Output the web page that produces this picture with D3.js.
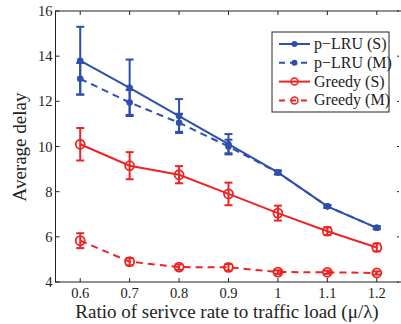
<!DOCTYPE html>
<html>
<head>
<meta charset="utf-8">
<script src="https://cdn.jsdelivr.net/npm/d3@7"></script>
<style>
  body { margin: 0; background: #fff; }
  svg { display: block; }
</style>
</head>
<body>
<svg id="chart" width="401" height="324" font-family="'Times New Roman', 'Liberation Serif', Times, 'DejaVu Serif', serif"></svg>
<script>
// data
const ratios = [0.6, 0.7, 0.8, 0.9, 1.0, 1.1, 1.2];
const yTicks = [4, 6, 8, 10, 12, 14, 16];

const lruS    = [13.8, 12.6, 11.35, 10.1, 8.85, 7.35, 6.4];
const lruSErr = [1.5, 1.25, 0.75, 0.45, 0.08, 0.06, 0.06];
const lruM    = [13.0, 11.95, 11.05, 10.0, 8.85, 7.35, 6.4];
const lruMErr = [0.7, 0.55, 0.4, 0.3, 0.08, 0.06, 0.06];
const grS     = [10.1, 9.15, 8.75, 7.9, 7.05, 6.25, 5.53];
const grSErr  = [0.72, 0.6, 0.38, 0.5, 0.33, 0.17, 0.17];
const grM     = [5.83, 4.9, 4.66, 4.65, 4.44, 4.43, 4.4];
const grMErr  = [0.33, 0.16, 0.12, 0.14, 0.08, 0.07, 0.07];

const seriesNames = ["p\u2212LRU (S)", "p\u2212LRU (M)", "Greedy (S)", "Greedy (M)"];

const blue = "#2e4fae", red = "#ee2424";
const serif = "'Times New Roman', 'Liberation Serif', Times, 'DejaVu Serif', serif";

const series = [
  { name: seriesNames[0], vals: lruS, err: lruSErr, color: blue, dash: null, marker: "dot" },
  { name: seriesNames[1], vals: lruM, err: lruMErr, color: blue, dash: "7,5", marker: "dot" },
  { name: seriesNames[2], vals: grS, err: grSErr, color: red, dash: null, marker: "circle" },
  { name: seriesNames[3], vals: grM, err: grMErr, color: red, dash: "7,5", marker: "circle" },
];

const svg = d3.select("#chart");
const m = { left: 55.5, top: 11, right: 401, bottom: 282 };

const x = d3.scaleLinear().domain([0.55, 1.25]).range([m.left, m.right + 0.5]);
const y = d3.scaleLinear().domain([4, 16]).range([m.bottom, m.top]);

// frame
svg.append("rect")
  .attr("x", m.left).attr("y", m.top)
  .attr("width", m.right + 2 - m.left).attr("height", m.bottom - m.top)
  .attr("fill", "none").attr("stroke", "#222").attr("stroke-width", 1);

const tickLen = 4;
// x ticks bottom & top
ratios.forEach(v => {
  svg.append("line").attr("x1", x(v)).attr("x2", x(v)).attr("y1", m.bottom).attr("y2", m.bottom - tickLen).attr("stroke", "#222");
  svg.append("line").attr("x1", x(v)).attr("x2", x(v)).attr("y1", m.top).attr("y2", m.top + tickLen).attr("stroke", "#222");
  svg.append("text").attr("x", x(v)).attr("y", m.bottom + 16)
    .attr("font-family", serif)
    .attr("text-anchor", "middle").attr("font-size", 14.5).attr("fill", "#222")
    .text(d3.format("")(v));
});
// y ticks left & right
yTicks.forEach(v => {
  svg.append("line").attr("x1", m.left).attr("x2", m.left + tickLen).attr("y1", y(v)).attr("y2", y(v)).attr("stroke", "#222");
  svg.append("line").attr("x1", 399).attr("x2", 399 - tickLen + 2).attr("y1", y(v)).attr("y2", y(v)).attr("stroke", "#222");
  svg.append("text").attr("x", m.left - 3).attr("y", y(v) + 5)
    .attr("font-family", serif)
    .attr("text-anchor", "end").attr("font-size", 14.5).attr("fill", "#222")
    .text(v);
});

svg.append("text").attr("x", 227).attr("y", 318)
  .attr("font-family", serif)
  .attr("text-anchor", "middle").attr("font-size", 19).attr("fill", "#222")
  .text("Ratio of serivce rate to traffic load (\u03bc/\u03bb)");
svg.append("text").attr("transform", "translate(26,147) rotate(-90)")
  .attr("font-family", serif)
  .attr("text-anchor", "middle").attr("font-size", 19).attr("fill", "#222")
  .text("Average delay");

const line = d3.line().x(d => x(d[0])).y(d => y(d[1]));
const capW = 4;

function marker(g, mk, cx, cy, color) {
  if (mk === "dot") {
    g.append("circle").attr("cx", cx).attr("cy", cy).attr("r", 3.3).attr("fill", color);
  } else {
    g.append("circle").attr("cx", cx).attr("cy", cy).attr("r", 4.5)
      .attr("fill", "none").attr("stroke", color).attr("stroke-width", 1.8);
  }
}

series.forEach(s => {
  const g = svg.append("g");
  const pts = ratios.map((r, i) => [r, s.vals[i]]);
  g.append("path").datum(pts).attr("d", line)
    .attr("fill", "none").attr("stroke", s.color).attr("stroke-width", 2)
    .attr("stroke-dasharray", s.dash);
  pts.forEach((p, i) => {
    const cx = x(p[0]);
    const lo = y(p[1] - s.err[i]), hi = y(p[1] + s.err[i]);
    g.append("line").attr("x1", cx).attr("x2", cx).attr("y1", lo).attr("y2", hi)
      .attr("stroke", s.color).attr("stroke-width", 2);
    [lo, hi].forEach(yy => g.append("line").attr("x1", cx - capW).attr("x2", cx + capW)
      .attr("y1", yy).attr("y2", yy).attr("stroke", s.color).attr("stroke-width", 2));
    marker(g, s.marker, cx, y(p[1]), s.color);
  });
});

// legend
const lg = svg.append("g");
lg.append("rect").attr("x", 272).attr("y", 32).attr("width", 117).attr("height", 80)
  .attr("fill", "#fff").attr("stroke", "#222").attr("stroke-width", 1);
series.forEach((s, i) => {
  const ly = 44 + i * 18.8;
  lg.append("line").attr("x1", 279).attr("x2", 310).attr("y1", ly).attr("y2", ly)
    .attr("stroke", s.color).attr("stroke-width", 2).attr("stroke-dasharray", s.dash ? "6,5" : null);
  if (s.marker === "dot") {
    lg.append("circle").attr("cx", 294.5).attr("cy", ly).attr("r", 3).attr("fill", s.color);
  } else {
    lg.append("circle").attr("cx", 294.5).attr("cy", ly).attr("r", 3.5)
      .attr("fill", "none").attr("stroke", s.color).attr("stroke-width", 1.5);
  }
  lg.append("text").attr("x", 314).attr("y", ly + 5).attr("font-size", 16).attr("fill", "#222")
    .attr("font-family", serif)
    .text(s.name);
});
</script>
</body>
</html>
